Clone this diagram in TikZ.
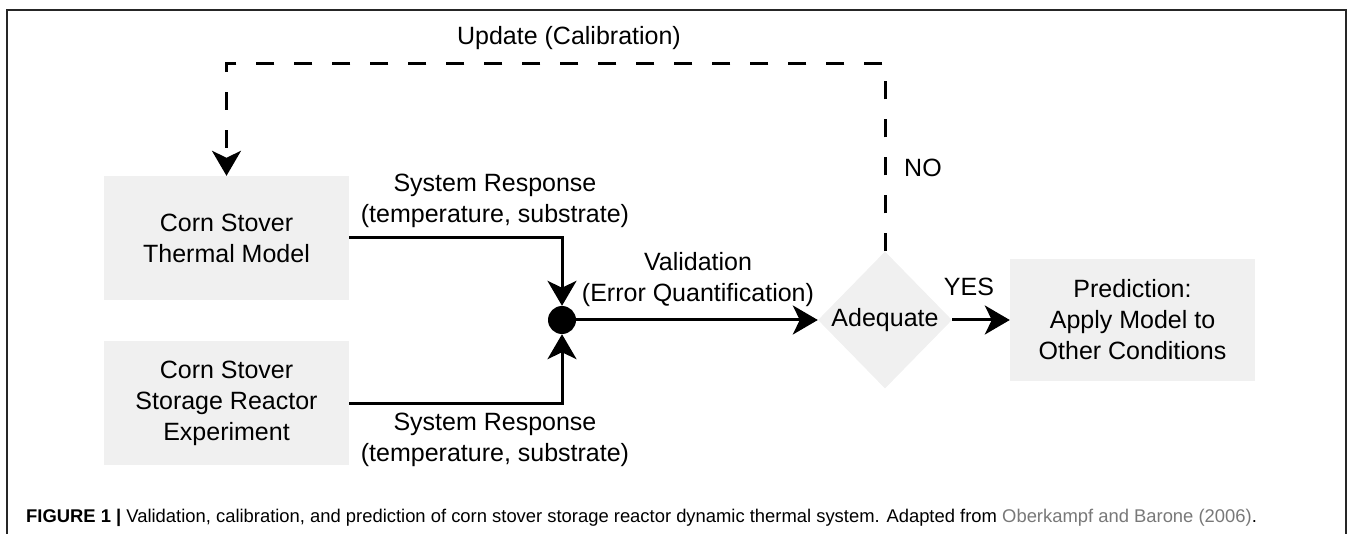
\documentclass[tikz,border=0pt]{standalone}
\usepackage{fontspec}
\setmainfont{Liberation Sans}
\usetikzlibrary{arrows.meta,shapes.geometric}
\definecolor{boxgray}{RGB}{240,240,240}
\definecolor{citegray}{RGB}{120,120,120}
\begin{document}
\begin{tikzpicture}[x=1pt,y=-1pt,
  mainfont/.style={font=\fontsize{25}{31}\selectfont},
  box/.style={fill=boxgray, minimum width=245pt, minimum height=124pt, inner sep=0pt, align=center, mainfont},
  lbl/.style={align=center, inner sep=0pt, mainfont},
  tip/.style={-{Stealth[length=25pt,width=29pt,inset=7pt]}},
  conn/.style={line width=3pt, tip},
  dconn/.style={line width=3pt, tip, dash pattern=on 18pt off 20pt},
  frame/.style={line width=1.2pt, black!85}
]
\useasboundingbox (0,0) rectangle (1357,534);
% frame
\draw[frame] (7,534) -- (7,10) -- (1346,10) -- (1346,534);

% nodes
\node[box] (th) at (226.5,238) {Corn Stover\\Thermal Model};
\node[box] (ex) at (226.5,403) {Corn Stover\\Storage Reactor\\Experiment};
\node[box, minimum height=122pt] (pr) at (1132.5,320) {Prediction:\\Apply Model to\\Other Conditions};
\node[diamond, fill=boxgray, minimum width=134pt, minimum height=137pt, inner sep=0pt] (dia) at (885,320) {};
\node[lbl] (adq) at (dia.center) {Adequate};
\node[circle, fill=black, minimum size=28pt, inner sep=0pt] (dot) at (562,320) {};
\coordinate (topc) at (500,64);

% connectors
\draw[conn] (th.east) -| (dot.north);
\draw[conn] (ex.east) -| (dot.south);
\draw[conn] (dot.east) -- (dia.west);
\draw[conn] (dia.east) -- (pr.west);
\draw[dconn] (dia.north) |- (topc) -| (th.north);

% labels
\node[lbl] (upd) at (569,38) {Update (Calibration)};
\node[lbl, anchor=west] (no) at (904,168) {NO};
\node[lbl] (yes) at (969,287) {YES};
\node[lbl] (sr1) at (495,200.5) {System Response\\(temperature, substrate)};
\node[lbl] (sr2) at (495,439.5) {System Response\\(temperature, substrate)};
\node[lbl] (val) at (698,279.5) {Validation\\(Error Quantification)};

% caption
\node[anchor=west, inner sep=0pt, font=\fontsize{18.4}{22}\selectfont] (cap) at (26,518)
  {\textbf{FIGURE 1} \textbf{|} Validation, calibration, and prediction of corn stover storage reactor dynamic thermal system. Adapted from \textcolor{citegray}{Oberkampf and Barone (2006)}.};
\end{tikzpicture}
\end{document}
